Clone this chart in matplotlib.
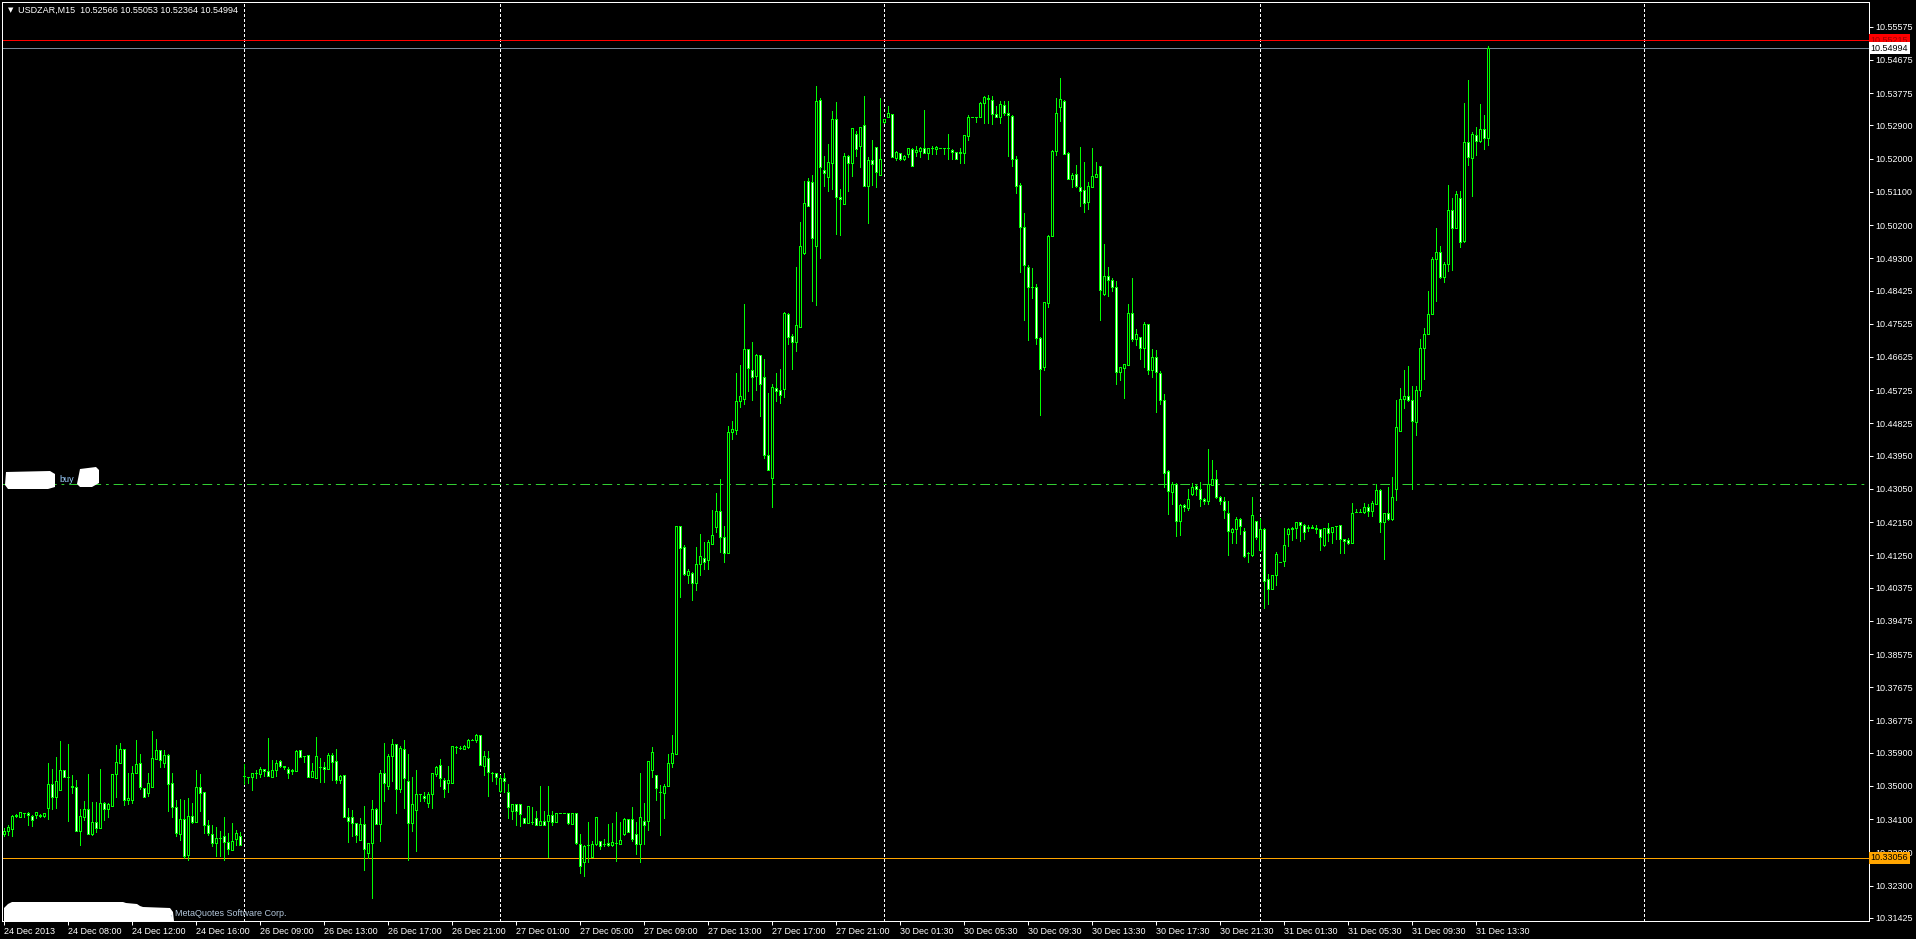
import matplotlib
matplotlib.use("Agg")
import matplotlib.pyplot as plt
from matplotlib.patches import Polygon
import matplotlib.transforms as mtransforms
import numpy as np

plt.rcParams['font.family'] = ['Liberation Sans', 'DejaVu Sans']
plt.rcParams['lines.scale_dashes'] = False

symbol = "USDZAR,M15"

# M15 bars
opens = [
    10.3370, 10.3379, 10.3384, 10.3419, 10.3417, 10.3428, 10.3428, 10.3419, 10.3422, 10.3422,
    10.3419, 10.3441, 10.3506, 10.3471, 10.3490, 10.3543, 10.3524, 10.3500, 10.3496, 10.3379,
    10.3417, 10.3438, 10.3371, 10.3402, 10.3387, 10.3453, 10.3438, 10.3447, 10.3532, 10.3563,
    10.3599, 10.3463, 10.3463, 10.3534, 10.3562, 10.3494, 10.3480, 10.3496, 10.3574, 10.3597,
    10.3563, 10.3584, 10.3507, 10.3444, 10.3369, 10.3411, 10.3313, 10.3419, 10.3403, 10.3496,
    10.3483, 10.3394, 10.3370, 10.3345, 10.3359, 10.3363, 10.3348, 10.3326, 10.3355, 10.3365,
    10.3528, 10.3525, 10.3524, 10.3534, 10.3532, 10.3545, 10.3541, 10.3525, 10.3543, 10.3567,
    10.3555, 10.3546, 10.3541, 10.3540, 10.3597, 10.3582, 10.3583, 10.3525, 10.3521, 10.3551,
    10.3551, 10.3545, 10.3585, 10.3568, 10.3516, 10.3530, 10.3417, 10.3415, 10.3399, 10.3354,
    10.3397, 10.3318, 10.3345, 10.3438, 10.3396, 10.3536, 10.3499, 10.3580, 10.3613, 10.3491,
    10.3599, 10.3514, 10.3400, 10.3436, 10.3477, 10.3474, 10.3455, 10.3477, 10.3533, 10.3558,
    10.3516, 10.3509, 10.3509, 10.3606, 10.3602, 10.3599, 10.3605, 10.3625, 10.3624, 10.3639,
    10.3553, 10.3577, 10.3534, 10.3534, 10.3487, 10.3521, 10.3484, 10.3432, 10.3452, 10.3452,
    10.3414, 10.3400, 10.3403, 10.3414, 10.3395, 10.3405, 10.3406, 10.3420, 10.3403, 10.3428,
    10.3428, 10.3428, 10.3396, 10.3428, 10.3342, 10.3293, 10.3340, 10.3308, 10.3343, 10.3351,
    10.3343, 10.3346, 10.3340, 10.3346, 10.3343, 10.3370, 10.3411, 10.3411, 10.3370, 10.3344,
    10.3404, 10.3404, 10.3543, 10.3531, 10.3484, 10.3481, 10.3499, 10.3561, 10.3587, 10.4204,
    10.4148, 10.4072, 10.4076, 10.4050, 10.4101, 10.4119, 10.4113, 10.4155, 10.4201, 10.4245,
    10.4175, 10.4131, 10.4458, 10.4465, 10.4542, 10.4549, 10.4684, 10.4628, 10.4610, 10.4667,
    10.4608, 10.4397, 10.4334, 10.4578, 10.4573, 10.4575, 10.4779, 10.4720, 10.4704, 10.4745,
    10.4945, 10.5139, 10.5138, 10.4962, 10.5359, 10.5168, 10.5149, 10.5189, 10.5307, 10.5095,
    10.5076, 10.5208, 10.5189, 10.5267, 10.5235, 10.5290, 10.5127, 10.5196, 10.5231, 10.5155,
    10.5298, 10.5312, 10.5321, 10.5203, 10.5214, 10.5200, 10.5212, 10.5225, 10.5219, 10.5222,
    10.5228, 10.5214, 10.5228, 10.5226, 10.5228, 10.5228, 10.5228, 10.5223, 10.5217, 10.5217,
    10.5216, 10.5261, 10.5314, 10.5314, 10.5314, 10.5350, 10.5364, 10.5358, 10.5320, 10.5314,
    10.5346, 10.5323, 10.5316, 10.5200, 10.5128, 10.5016, 10.4906, 10.4852, 10.4853, 10.4715,
    10.4634, 10.4810, 10.4991, 10.5220, 10.5341, 10.5357, 10.5214, 10.5144, 10.5158, 10.5122,
    10.5114, 10.5083, 10.5122, 10.5151, 10.5181, 10.4833, 10.4881, 10.4871, 10.4852, 10.4621,
    10.4632, 10.4641, 10.4781, 10.4711, 10.4717, 10.4688, 10.4752, 10.4626, 10.4662, 10.4619,
    10.4545, 10.4353, 10.4296, 10.4317, 10.4218, 10.4261, 10.4252, 10.4291, 10.4312, 10.4304,
    10.4278, 10.4273, 10.4315, 10.4333, 10.4283, 10.4271, 10.4239, 10.4187, 10.4195, 10.4224,
    10.4192, 10.4130, 10.4126, 10.4218, 10.4140, 10.4197, 10.4061, 10.4035, 10.4071, 10.4107,
    10.4110, 10.4182, 10.4195, 10.4200, 10.4214, 10.4206, 10.4200, 10.4203, 10.4200, 10.4195,
    10.4154, 10.4198, 10.4187, 10.4205, 10.4206, 10.4169, 10.4166, 10.4159, 10.4242, 10.4242,
    10.4242, 10.4257, 10.4246, 10.4265, 10.4301, 10.4214, 10.4239, 10.4223, 10.4304, 10.4463,
    10.4548, 10.4558, 10.4545, 10.4485, 10.4574, 10.4686, 10.4726, 10.4779, 10.4927, 10.4947,
    10.4880, 10.4914, 10.5061, 10.5011, 10.5092, 10.4978, 10.5245, 10.5203, 10.5264, 10.5248,
    10.5279, 10.52566,
]
highs = [
    10.3385, 10.3394, 10.3422, 10.3424, 10.3430, 10.3428, 10.3429, 10.3422, 10.3430, 10.3424,
    10.3428, 10.3563, 10.3546, 10.3579, 10.3622, 10.3543, 10.3614, 10.3530, 10.3516, 10.3438,
    10.3458, 10.3533, 10.3457, 10.3457, 10.3546, 10.3457, 10.3453, 10.3532, 10.3611, 10.3617,
    10.3599, 10.3534, 10.3555, 10.3625, 10.3587, 10.3494, 10.3534, 10.3648, 10.3627, 10.3597,
    10.3597, 10.3587, 10.3534, 10.3462, 10.3465, 10.3462, 10.3467, 10.3453, 10.3543, 10.3533,
    10.3483, 10.3408, 10.3394, 10.3390, 10.3379, 10.3417, 10.3372, 10.3399, 10.3381, 10.3376,
    10.3559, 10.3525, 10.3534, 10.3543, 10.3551, 10.3546, 10.3630, 10.3569, 10.3569, 10.3571,
    10.3555, 10.3552, 10.3547, 10.3598, 10.3597, 10.3582, 10.3583, 10.3563, 10.3633, 10.3577,
    10.3564, 10.3589, 10.3589, 10.3600, 10.3530, 10.3530, 10.3441, 10.3435, 10.3399, 10.3412,
    10.3446, 10.3345, 10.3462, 10.3440, 10.3543, 10.3616, 10.3587, 10.3628, 10.3613, 10.3609,
    10.3624, 10.3587, 10.3525, 10.3543, 10.3477, 10.3484, 10.3484, 10.3536, 10.3555, 10.3572,
    10.3521, 10.3553, 10.3609, 10.3609, 10.3608, 10.3611, 10.3628, 10.3626, 10.3642, 10.3639,
    10.3594, 10.3594, 10.3537, 10.3534, 10.3531, 10.3536, 10.3506, 10.3452, 10.3452, 10.3452,
    10.3414, 10.3447, 10.3443, 10.3433, 10.3499, 10.3433, 10.3499, 10.3433, 10.3428, 10.3428,
    10.3428, 10.3428, 10.3428, 10.3428, 10.3370, 10.3340, 10.3403, 10.3352, 10.3416, 10.3352,
    10.3356, 10.3396, 10.3399, 10.3429, 10.3403, 10.3414, 10.3411, 10.3443, 10.3403, 10.3536,
    10.3455, 10.3568, 10.3606, 10.3531, 10.3503, 10.3506, 10.3587, 10.3639, 10.4204, 10.4204,
    10.4153, 10.4087, 10.4079, 10.4148, 10.4182, 10.4160, 10.4167, 10.4248, 10.4295, 10.4332,
    10.4204, 10.4476, 10.4490, 10.4618, 10.4640, 10.4806, 10.4685, 10.4702, 10.4671, 10.4667,
    10.4657, 10.4564, 10.4590, 10.4619, 10.4629, 10.4784, 10.4781, 10.4725, 10.4906, 10.5028,
    10.5140, 10.5147, 10.5156, 10.5397, 10.5364, 10.5207, 10.5240, 10.5329, 10.5354, 10.5117,
    10.5214, 10.5210, 10.5282, 10.5275, 10.5285, 10.5370, 10.5205, 10.5251, 10.5231, 10.5364,
    10.5307, 10.5343, 10.5321, 10.5221, 10.5214, 10.5210, 10.5228, 10.5228, 10.5234, 10.5231,
    10.5332, 10.5228, 10.5234, 10.5234, 10.5228, 10.5228, 10.5267, 10.5225, 10.5217, 10.5228,
    10.5263, 10.5318, 10.5314, 10.5314, 10.5353, 10.5370, 10.5372, 10.5370, 10.5343, 10.5357,
    10.5357, 10.5357, 10.5318, 10.5208, 10.5133, 10.5052, 10.4912, 10.4903, 10.4860, 10.4718,
    10.4811, 10.4993, 10.5224, 10.5364, 10.5418, 10.5359, 10.5217, 10.5160, 10.5183, 10.5231,
    10.5190, 10.5138, 10.5228, 10.5192, 10.5181, 10.4968, 10.4906, 10.4876, 10.4869, 10.4634,
    10.4643, 10.4806, 10.4877, 10.4738, 10.4717, 10.4757, 10.4752, 10.4683, 10.4681, 10.4624,
    10.4563, 10.4356, 10.4325, 10.4322, 10.4263, 10.4263, 10.4306, 10.4320, 10.4318, 10.4325,
    10.4280, 10.4413, 10.4382, 10.4356, 10.4285, 10.4283, 10.4271, 10.4200, 10.4228, 10.4226,
    10.4200, 10.4133, 10.4283, 10.4218, 10.4226, 10.4198, 10.4074, 10.4071, 10.4133, 10.4108,
    10.4198, 10.4200, 10.4202, 10.4214, 10.4214, 10.4209, 10.4206, 10.4207, 10.4206, 10.4195,
    10.4200, 10.4213, 10.4203, 10.4205, 10.4206, 10.4169, 10.4171, 10.4266, 10.4250, 10.4250,
    10.4266, 10.4263, 10.4271, 10.4318, 10.4304, 10.4240, 10.4309, 10.4337, 10.4545, 10.4579,
    10.4626, 10.4638, 10.4584, 10.4584, 10.4711, 10.4740, 10.4840, 10.4934, 10.5011, 10.4963,
    10.4919, 10.5129, 10.5094, 10.5113, 10.5113, 10.5350, 10.5414, 10.5271, 10.5287, 10.5349,
    10.5318, 10.55053,
]
lows = [
    10.3365, 10.3367, 10.3365, 10.3415, 10.3415, 10.3415, 10.3394, 10.3392, 10.3412, 10.3417,
    10.3415, 10.3411, 10.3438, 10.3441, 10.3490, 10.3523, 10.3404, 10.3482, 10.3379, 10.3340,
    10.3408, 10.3371, 10.3367, 10.3374, 10.3387, 10.3408, 10.3417, 10.3447, 10.3471, 10.3563,
    10.3449, 10.3450, 10.3455, 10.3534, 10.3492, 10.3469, 10.3473, 10.3496, 10.3574, 10.3552,
    10.3551, 10.3432, 10.3417, 10.3363, 10.3354, 10.3304, 10.3298, 10.3399, 10.3403, 10.3431,
    10.3372, 10.3367, 10.3336, 10.3309, 10.3309, 10.3298, 10.3315, 10.3326, 10.3339, 10.3341,
    10.3505, 10.3509, 10.3489, 10.3521, 10.3525, 10.3527, 10.3528, 10.3524, 10.3528, 10.3552,
    10.3547, 10.3522, 10.3532, 10.3540, 10.3579, 10.3566, 10.3525, 10.3525, 10.3521, 10.3512,
    10.3512, 10.3545, 10.3516, 10.3507, 10.3507, 10.3417, 10.3347, 10.3363, 10.3349, 10.3354,
    10.3272, 10.3304, 10.3195, 10.3397, 10.3352, 10.3458, 10.3491, 10.3514, 10.3428, 10.3484,
    10.3440, 10.3298, 10.3378, 10.3323, 10.3458, 10.3458, 10.3443, 10.3440, 10.3528, 10.3499,
    10.3469, 10.3484, 10.3509, 10.3590, 10.3599, 10.3599, 10.3602, 10.3624, 10.3620, 10.3558,
    10.3531, 10.3474, 10.3514, 10.3506, 10.3484, 10.3484, 10.3414, 10.3411, 10.3393, 10.3392,
    10.3400, 10.3400, 10.3396, 10.3394, 10.3394, 10.3394, 10.3308, 10.3394, 10.3403, 10.3428,
    10.3428, 10.3396, 10.3396, 10.3344, 10.3264, 10.3256, 10.3293, 10.3308, 10.3340, 10.3330,
    10.3337, 10.3337, 10.3337, 10.3296, 10.3343, 10.3367, 10.3374, 10.3352, 10.3315, 10.3293,
    10.3344, 10.3381, 10.3525, 10.3462, 10.3367, 10.3414, 10.3499, 10.3550, 10.3587, 10.4013,
    10.4072, 10.4050, 10.4003, 10.4032, 10.4072, 10.4087, 10.4089, 10.4155, 10.4189, 10.4134,
    10.4106, 10.4131, 10.4439, 10.4454, 10.4527, 10.4535, 10.4570, 10.4546, 10.4573, 10.4503,
    10.4390, 10.4355, 10.4257, 10.4544, 10.4539, 10.4553, 10.4697, 10.4630, 10.4679, 10.4745,
    10.4942, 10.5073, 10.4815, 10.4804, 10.4932, 10.5126, 10.5113, 10.5118, 10.4997, 10.4993,
    10.5076, 10.5111, 10.5154, 10.5207, 10.5176, 10.5127, 10.5025, 10.5128, 10.5122, 10.5155,
    10.5296, 10.5312, 10.5205, 10.5195, 10.5195, 10.5195, 10.5205, 10.5180, 10.5208, 10.5205,
    10.5214, 10.5198, 10.5213, 10.5213, 10.5228, 10.5213, 10.5199, 10.5200, 10.5200, 10.5189,
    10.5189, 10.5251, 10.5314, 10.5298, 10.5312, 10.5296, 10.5296, 10.5293, 10.5314, 10.5296,
    10.5318, 10.5208, 10.5181, 10.5108, 10.4893, 10.4763, 10.4709, 10.4823, 10.4698, 10.4506,
    10.4627, 10.4799, 10.4991, 10.5210, 10.5302, 10.5213, 10.5145, 10.5124, 10.5124, 10.5072,
    10.5056, 10.5064, 10.5122, 10.5151, 10.4763, 10.4831, 10.4828, 10.4840, 10.4589, 10.4600,
    10.4550, 10.4641, 10.4706, 10.4696, 10.4657, 10.4636, 10.4617, 10.4607, 10.4514, 10.4534,
    10.4311, 10.4237, 10.4263, 10.4178, 10.4180, 10.4244, 10.4249, 10.4289, 10.4289, 10.4259,
    10.4265, 10.4263, 10.4315, 10.4280, 10.4265, 10.4226, 10.4126, 10.4159, 10.4159, 10.4182,
    10.4120, 10.4107, 10.4123, 10.4169, 10.4138, 10.3983, 10.3993, 10.4033, 10.4045, 10.4106,
    10.4095, 10.4149, 10.4167, 10.4171, 10.4164, 10.4169, 10.4192, 10.4200, 10.4185, 10.4140,
    10.4149, 10.4164, 10.4159, 10.4169, 10.4130, 10.4130, 10.4157, 10.4159, 10.4242, 10.4242,
    10.4240, 10.4232, 10.4232, 10.4263, 10.4188, 10.4114, 10.4221, 10.4221, 10.4275, 10.4463,
    10.4524, 10.4543, 10.4304, 10.4452, 10.4558, 10.4603, 10.4726, 10.4779, 10.4814, 10.4877,
    10.4866, 10.4895, 10.4898, 10.5011, 10.4960, 10.4975, 10.5182, 10.5098, 10.5209, 10.5246,
    10.5227, 10.52364,
]
closes = [
    10.3379, 10.3388, 10.3419, 10.3422, 10.3429, 10.3428, 10.3420, 10.3408, 10.3429, 10.3419,
    10.3427, 10.3506, 10.3469, 10.3514, 10.3543, 10.3523, 10.3525, 10.3496, 10.3379, 10.3418,
    10.3438, 10.3371, 10.3402, 10.3387, 10.3453, 10.3437, 10.3450, 10.3532, 10.3565, 10.3599,
    10.3463, 10.3467, 10.3534, 10.3560, 10.3496, 10.3471, 10.3507, 10.3575, 10.3597, 10.3569,
    10.3584, 10.3505, 10.3444, 10.3372, 10.3411, 10.3311, 10.3419, 10.3403, 10.3496, 10.3482,
    10.3393, 10.3372, 10.3345, 10.3359, 10.3358, 10.3347, 10.3330, 10.3350, 10.3372, 10.3341,
    10.3528, 10.3525, 10.3534, 10.3534, 10.3545, 10.3541, 10.3528, 10.3543, 10.3563, 10.3555,
    10.3551, 10.3534, 10.3542, 10.3595, 10.3579, 10.3582, 10.3525, 10.3541, 10.3581, 10.3551,
    10.3545, 10.3584, 10.3566, 10.3515, 10.3528, 10.3417, 10.3406, 10.3399, 10.3366, 10.3397,
    10.3329, 10.3345, 10.3438, 10.3397, 10.3536, 10.3509, 10.3580, 10.3613, 10.3491, 10.3602,
    10.3521, 10.3400, 10.3452, 10.3477, 10.3477, 10.3467, 10.3477, 10.3536, 10.3552, 10.3521,
    10.3491, 10.3516, 10.3609, 10.3606, 10.3602, 10.3608, 10.3624, 10.3625, 10.3639, 10.3558,
    10.3580, 10.3539, 10.3534, 10.3525, 10.3521, 10.3514, 10.3443, 10.3452, 10.3432, 10.3423,
    10.3400, 10.3447, 10.3403, 10.3395, 10.3406, 10.3395, 10.3421, 10.3403, 10.3428, 10.3428,
    10.3428, 10.3400, 10.3428, 10.3346, 10.3283, 10.3337, 10.3340, 10.3343, 10.3416, 10.3336,
    10.3343, 10.3340, 10.3347, 10.3346, 10.3354, 10.3411, 10.3374, 10.3356, 10.3344, 10.3416,
    10.3393, 10.3568, 10.3592, 10.3494, 10.3484, 10.3499, 10.3563, 10.3590, 10.4204, 10.4145,
    10.4075, 10.4083, 10.4050, 10.4101, 10.4123, 10.4108, 10.4160, 10.4180, 10.4245, 10.4175,
    10.4131, 10.4458, 10.4468, 10.4542, 10.4557, 10.4684, 10.4632, 10.4608, 10.4667, 10.4589,
    10.4396, 10.4355, 10.4581, 10.4569, 10.4559, 10.4781, 10.4718, 10.4704, 10.4748, 10.4962,
    10.5079, 10.5073, 10.4986, 10.5357, 10.5178, 10.5162, 10.5190, 10.5307, 10.5097, 10.5090,
    10.5208, 10.5187, 10.5282, 10.5225, 10.5285, 10.5127, 10.5196, 10.5185, 10.5165, 10.5199,
    10.5307, 10.5323, 10.5205, 10.5219, 10.5199, 10.5207, 10.5228, 10.5180, 10.5223, 10.5229,
    10.5214, 10.5228, 10.5228, 10.5231, 10.5228, 10.5228, 10.5228, 10.5217, 10.5200, 10.5215,
    10.5263, 10.5312, 10.5314, 10.5314, 10.5350, 10.5366, 10.5361, 10.5320, 10.5314, 10.5347,
    10.5323, 10.5318, 10.5199, 10.5127, 10.5016, 10.4913, 10.4851, 10.4852, 10.4715, 10.4630,
    10.4811, 10.4991, 10.5220, 10.5323, 10.5361, 10.5213, 10.5145, 10.5156, 10.5127, 10.5113,
    10.5081, 10.5125, 10.5152, 10.5158, 10.4843, 10.4882, 10.4870, 10.4851, 10.4621, 10.4634,
    10.4643, 10.4781, 10.4711, 10.4724, 10.4688, 10.4752, 10.4626, 10.4662, 10.4621, 10.4545,
    10.4349, 10.4299, 10.4317, 10.4218, 10.4261, 10.4255, 10.4278, 10.4311, 10.4304, 10.4277,
    10.4273, 10.4317, 10.4333, 10.4283, 10.4271, 10.4247, 10.4190, 10.4195, 10.4224, 10.4204,
    10.4123, 10.4130, 10.4234, 10.4175, 10.4197, 10.4055, 10.4035, 10.4071, 10.4128, 10.4107,
    10.4154, 10.4195, 10.4200, 10.4214, 10.4206, 10.4188, 10.4203, 10.4200, 10.4195, 10.4175,
    10.4198, 10.4185, 10.4203, 10.4205, 10.4169, 10.4164, 10.4159, 10.4240, 10.4242, 10.4242,
    10.4257, 10.4246, 10.4268, 10.4302, 10.4214, 10.4239, 10.4224, 10.4283, 10.4472, 10.4548,
    10.4558, 10.4545, 10.4489, 10.4572, 10.4686, 10.4726, 10.4779, 10.4929, 10.4947, 10.4880,
    10.4914, 10.5061, 10.5011, 10.5103, 10.4975, 10.5245, 10.5204, 10.5267, 10.5248, 10.5279,
    10.5255, 10.54994,
]

time_labels = [
    "24 Dec 2013", "24 Dec 08:00", "24 Dec 12:00", "24 Dec 16:00",
    "26 Dec 09:00", "26 Dec 13:00", "26 Dec 17:00", "26 Dec 21:00",
    "27 Dec 01:00", "27 Dec 05:00", "27 Dec 09:00", "27 Dec 13:00",
    "27 Dec 17:00", "27 Dec 21:00", "30 Dec 01:30", "30 Dec 05:30",
    "30 Dec 09:30", "30 Dec 13:30", "30 Dec 17:30", "30 Dec 21:30",
    "31 Dec 01:30", "31 Dec 05:30", "31 Dec 09:30", "31 Dec 13:30",
]
label_every = 16  # bars between time labels

price_ticks = [
    10.55575, 10.54675, 10.53775, 10.52900, 10.52000, 10.51100, 10.50200,
    10.49300, 10.48425, 10.47525, 10.46625, 10.45725, 10.44825, 10.43950,
    10.43050, 10.42150, 10.41250, 10.40375, 10.39475, 10.38575, 10.37675,
    10.36775, 10.35900, 10.35000, 10.34100, 10.33200, 10.32300, 10.31425,
]

day_breaks = [60, 124, 220, 314, 410]  # bar index of each day start

level_red = 10.55215
level_bid = 10.54994
level_orange = 10.33056
level_buy = 10.4318

GREEN = '#00ff00'
W, H = 1916, 939
LW = 0.72  # one pixel at 100 dpi

fig = plt.figure(figsize=(W / 100, H / 100), dpi=100, facecolor='black')
ax = fig.add_axes([2 / W, 18 / H, 1867 / W, 919 / H])
ax.set_facecolor('black')

n = min(len(opens), len(highs), len(lows), len(closes))
o = np.array(opens[:n])
c = np.array(closes[:n])
hi = np.maximum(np.array(highs[:n]), np.maximum(o, c))
lo = np.minimum(np.array(lows[:n]), np.minimum(o, c))
x = np.arange(n)

ax.set_xlim(-0.375, 466.375)
ax.set_ylim(10.31340, 10.56245)

# day separators
ax.vlines(day_breaks, 10.31340, 10.56245, colors='white', linewidth=LW,
          linestyles=(0, (1.5, 1.5)), zorder=1, antialiased=False)

# horizontal levels
ax.axhline(level_buy, color='#32cd32', linewidth=LW,
           dashes=(7, 3.5, 2, 3.5), zorder=1.5)
ax.axhline(level_orange, color='#ffa500', linewidth=LW, zorder=1.5)
ax.axhline(level_red, color='#ff0000', linewidth=LW, zorder=1.5)
ax.axhline(level_bid, color='#778899', linewidth=LW, zorder=1.5)

# candles
ax.vlines(x, lo, hi, colors=GREEN, linewidth=LW, zorder=2, antialiased=False)
fills = np.where(c >= o, 'black', 'white')
ax.bar(x, np.abs(c - o), width=0.5, bottom=np.minimum(o, c), color=fills,
       edgecolor=GREEN, linewidth=LW, zorder=2.2, antialiased=False)

# axes styling
for s in ax.spines.values():
    s.set_color('white')
    s.set_linewidth(LW)
ax.yaxis.tick_right()
ax.set_yticks(price_ticks)
ax.set_yticklabels(['%.5f' % v for v in price_ticks])
ax.tick_params(axis='y', colors='white', length=3, width=LW, pad=1.5,
               labelsize=6.5)
tick_pos = [k * label_every for k in range(len(time_labels))]
ax.set_xticks(tick_pos)
ax.set_xticklabels(time_labels, ha='left')
ax.tick_params(axis='x', colors='white', length=3, width=LW, pad=1,
               labelsize=6.5)

# price tags on the right scale
tr = mtransforms.blended_transform_factory(ax.transAxes, ax.transData)
for val, bg, fg in [(level_red, '#ff0000', '#a00000'),
                    (level_bid, 'white', 'black'),
                    (level_orange, '#ffa500', 'black')]:
    ax.text(1.0008, val, '%.5f' % val, transform=tr, ha='left', va='center',
            fontsize=6.5, color=fg, clip_on=False, zorder=5,
            bbox=dict(boxstyle='square,pad=0.18', fc=bg, ec='none'))

# title line
fig.text(8 / W, 1 - 10 / H, '\u25bc', color='white', fontsize=5,
         family='DejaVu Sans', va='center')
fig.text(18 / W, 1 - 10 / H,
         '%s  %.5f %.5f %.5f %.5f' % (symbol, opens[-1], highs[-1], lows[-1], closes[-1]),
         color='white', fontsize=6.5, va='center')


def px(pts):
    return [(a, H - b) for a, b in pts]


# white blobs painted over the screenshot
blob1 = px([(4, 921), (4, 908), (8, 904), (12, 902), (123, 902), (126, 903),
            (137, 904), (140, 906), (143, 907), (170, 908), (173, 912), (174, 921)])
blob2 = px([(6, 472), (50, 471), (55, 474), (55, 487), (48, 489), (8, 489), (5, 485)])
blob3 = px([(80, 469), (96, 467), (99, 470), (99, 483), (92, 487), (80, 487), (77, 484)])
for b in (blob1, blob2, blob3):
    fig.patches.append(Polygon(b, closed=True, fc='white', ec='none',
                               transform=None, zorder=10))

fig.text(170 / W, 1 - 913 / H, ', MetaQuotes Software Corp.', color='#b4c8dc',
         fontsize=6.5, va='center', zorder=11)
fig.text(59 / W, 1 - 479 / H, 'buy', color='#9ccfff', fontsize=6.5,
         va='center', zorder=11)

fig.savefig('out.png', dpi=100, facecolor='black')
